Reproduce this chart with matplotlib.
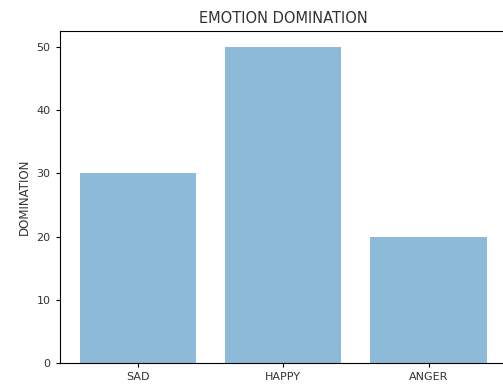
#!/usr/bin/env python3

import numpy as np
import matplotlib
matplotlib.use("Agg")
import matplotlib.pyplot as plt

emotions = ["SAD", "HAPPY", "ANGER"]
domination = [30, 50, 20]


def main():
    fig = plt.figure(figsize=(5.03, 3.87), dpi=100)
    # axes runs slightly past the right edge of the canvas
    ax = fig.add_axes([59.5 / 503, 24 / 387, 447.5 / 503, 332 / 387])

    pos = np.arange(len(emotions))
    ax.bar(pos, domination, align="center", alpha=0.5)
    ax.set_xticks(pos)
    ax.set_xticklabels(emotions)
    ax.set_ylabel("DOMINATION", fontsize=8.5, color="#333333")
    ax.set_title("EMOTION DOMINATION", fontsize=10.5, color="#333333")
    ax.tick_params(labelsize=8, length=3, labelcolor="#333333")

    fig.savefig("out.png", dpi=100)


if __name__ == "__main__":
    main()
